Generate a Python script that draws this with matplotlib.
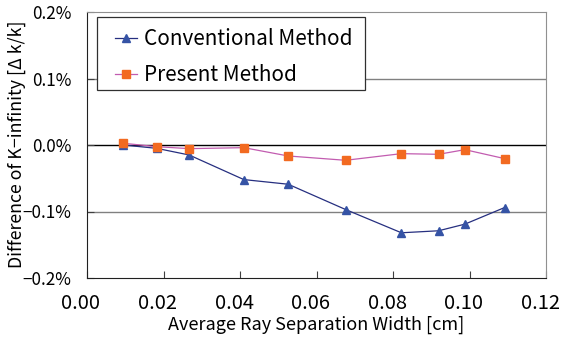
import matplotlib
matplotlib.use('Agg')
import matplotlib.pyplot as plt
from matplotlib.patches import Rectangle
from matplotlib.ticker import FuncFormatter
from matplotlib.transforms import ScaledTranslation

plt.rcParams['font.family'] = ['Noto Sans CJK JP', 'DejaVu Sans']

# ray separation width [cm] and k-infinity difference [%]
width = [0.0095, 0.0182, 0.0267, 0.041, 0.0526, 0.0676, 0.0822, 0.0919, 0.0988, 0.1092]
conventional = [0.0, -0.005, -0.015, -0.052, -0.059, -0.097, -0.132, -0.129, -0.119, -0.094]
present = [0.0026, -0.0025, -0.0055, -0.004, -0.0165, -0.023, -0.013, -0.014, -0.007, -0.0205]

xticks = [0.00, 0.02, 0.04, 0.06, 0.08, 0.10, 0.12]
yticks = [-0.2, -0.1, 0.0, 0.1, 0.2]

W, H = 561, 342
x0, x1, y0, y1 = 87, 546, 12, 278   # plot area in pixels

fig = plt.figure(figsize=(W/100, H/100), dpi=100)
ax = fig.add_axes([x0/W, 1 - y1/H, (x1-x0)/W, (y1-y0)/H])

for y in yticks[1:-1]:
    ax.axhline(y, color='black' if y == 0 else '#808080', lw=1.0, zorder=1)

ax.plot(width, conventional, color='#262f80', lw=0.9, marker='^', ms=6,
        mfc='#3553a5', mec='#3553a5', label='Conventional Method', zorder=3)
ax.plot(width, present, color='#c25cb0', lw=0.9, marker='s', ms=6,
        mfc='#f26a21', mec='#f26a21', label='Present Method', zorder=3)

ax.set_xlim(0, 0.12)
ax.set_ylim(-0.2, 0.2)
ax.set_xticks(xticks)
ax.set_yticks(yticks)
ax.xaxis.set_major_formatter(FuncFormatter(lambda v, p: f'{v:.2f}'))
ax.yaxis.set_major_formatter(FuncFormatter(lambda v, p: f'{v:.1f}%'.replace('-', '\u2212')))
ax.tick_params(axis='x', direction='in', length=5, labelsize=14.5, pad=11, color='#404040')
ax.tick_params(axis='y', direction='in', length=5, labelsize=12.3, pad=11, color='#404040')

# x tick labels sit a little to the left of their ticks
shift = ScaledTranslation(-6/100, 0, fig.dpi_scale_trans)
for lab in ax.get_xticklabels():
    lab.set_transform(lab.get_transform() + shift)

for s in ['top', 'right']:
    ax.spines[s].set_color('#909090')
for s in ['left', 'bottom']:
    ax.spines[s].set_color('#202020')

ax.set_xlabel('Average Ray Separation Width [cm]', fontsize=13, labelpad=1)
ax.set_ylabel('Difference of K\u2212infinity [\u0394 k/k]', fontsize=12.8)
ax.yaxis.set_label_coords((26-x0)/(x1-x0), 1 - (144-y0)/(y1-y0))

# legend box drawn separately so its padding can be set freely
ax.add_patch(Rectangle(((97-x0)/(x1-x0), 1 - (90-y0)/(y1-y0)),
                       (365-97)/(x1-x0), (90-17)/(y1-y0),
                       transform=ax.transAxes, fc='white', ec='#303030',
                       lw=0.9, zorder=4))
leg = ax.legend(loc='upper left', bbox_to_anchor=((115-x0)/(x1-x0), 1 - (28-y0)/(y1-y0)),
                fontsize=14.9, frameon=False, handlelength=1.06, handletextpad=0.34,
                borderpad=0, labelspacing=0.7, borderaxespad=0)
leg.set_zorder(5)

fig.savefig('out.png', dpi=100)
